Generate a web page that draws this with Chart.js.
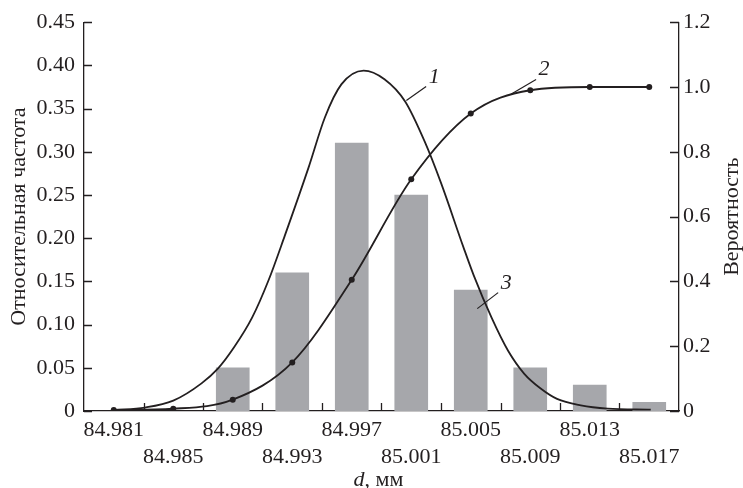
<!DOCTYPE html>
<html>
<head>
<meta charset="utf-8">
<script src="https://cdn.jsdelivr.net/npm/chart.js@4.4.1/dist/chart.umd.min.js"></script>
<style>
  body { margin: 0; background: #fff; }
</style>
</head>
<body>
<canvas id="chart" width="743" height="488"></canvas>
<script>
// histogram (relative frequency, left axis)
const binCenters = [84.989, 84.993, 84.997, 85.001, 85.005, 85.009, 85.013, 85.017];
const relFrequency = [0.05, 0.16, 0.31, 0.25, 0.14, 0.05, 0.03, 0.01];

// curve 1 - density (left axis)
const densityX = [84.981, 84.9831, 84.985, 84.9869, 84.988, 84.9891, 84.9903, 84.9914, 84.9925, 84.9941,
  84.9952, 84.9963, 84.9978, 84.9992, 85.0006, 85.0019, 85.003, 85.0045, 85.0052, 85.0064,
  85.0075, 85.0086, 85.0097, 85.0108, 85.0124, 85.0142, 85.0171];
const densityY = [0.001, 0.004, 0.012, 0.032, 0.049, 0.074, 0.108, 0.151, 0.203, 0.282,
  0.340, 0.378, 0.394, 0.384, 0.358, 0.312, 0.264, 0.190, 0.157, 0.108,
  0.070, 0.043, 0.026, 0.014, 0.0066, 0.0028, 0.0015];

// curve 2 - cumulative probability (right axis)
const cdfX = [84.981, 84.985, 84.989, 84.993, 84.997, 85.001, 85.005, 85.009, 85.013, 85.017];
const cdfY = [0.003, 0.007, 0.035, 0.15, 0.405, 0.715, 0.918, 0.99, 1.0, 1.0];

const xTickLabels = [84.981, 84.985, 84.989, 84.993, 84.997, 85.001, 85.005, 85.009, 85.013, 85.017];
const xTickMarks = [84.983, 84.987, 84.991, 84.995, 84.999, 85.003, 85.007, 85.011, 85.015];
const yLeftTicks = [0, 0.05, 0.10, 0.15, 0.20, 0.25, 0.30, 0.35, 0.40, 0.45];
const yRightTicks = [0, 0.2, 0.4, 0.6, 0.8, 1.0, 1.2];

const INK = '#231f20';
const FONT = 'Liberation Serif';

// curve numbers with leader lines (x value, left-axis value)
const curveNotes = [
  { text: '1', at: [85.00254, 0.386], from: [85.00067, 0.3595], to: [85.0020, 0.3757] },
  { text: '2', at: [85.00993, 0.3954], from: [85.0077, 0.3665], to: [85.00939, 0.3838] },
  { text: '3', at: [85.00738, 0.1474], from: [85.00544, 0.1185], to: [85.00684, 0.137] }
];

const decorations = {
  id: 'decorations',
  afterDraw(chart) {
    const { ctx, chartArea } = chart;
    const x = chart.scales.x, yl = chart.scales.yLeft, yr = chart.scales.yRight;
    ctx.save();
    ctx.strokeStyle = INK;
    ctx.lineWidth = 1.3;
    ctx.beginPath();
    xTickMarks.forEach(v => {
      const px = Math.round(x.getPixelForValue(v)) + 0.5;
      ctx.moveTo(px, chartArea.bottom);
      ctx.lineTo(px, chartArea.bottom - 8);
    });
    yLeftTicks.forEach(v => {
      const py = Math.round(yl.getPixelForValue(v)) + 0.5;
      ctx.moveTo(chartArea.left, py);
      ctx.lineTo(chartArea.left + 8, py);
    });
    yRightTicks.forEach(v => {
      const py = Math.round(yr.getPixelForValue(v)) + 0.5;
      ctx.moveTo(chartArea.right, py);
      ctx.lineTo(chartArea.right - 9, py);
    });
    ctx.stroke();

    // curve numbers
    ctx.lineWidth = 1.2;
    ctx.fillStyle = INK;
    ctx.font = 'italic 22px "' + FONT + '"';
    ctx.textAlign = 'center';
    ctx.textBaseline = 'middle';
    curveNotes.forEach(n => {
      ctx.beginPath();
      ctx.moveTo(x.getPixelForValue(n.from[0]), yl.getPixelForValue(n.from[1]));
      ctx.lineTo(x.getPixelForValue(n.to[0]), yl.getPixelForValue(n.to[1]));
      ctx.stroke();
      ctx.fillText(n.text, x.getPixelForValue(n.at[0]), yl.getPixelForValue(n.at[1]));
    });

    // axis titles
    const midY = (chartArea.top + chartArea.bottom) / 2;
    ctx.font = '22px "' + FONT + '"';
    ctx.save();
    ctx.translate(19, midY);
    ctx.rotate(-Math.PI / 2);
    ctx.fillText('Относительная частота', 0, 0);
    ctx.restore();
    ctx.save();
    ctx.translate(732, midY);
    ctx.rotate(-Math.PI / 2);
    ctx.fillText('Вероятность', 0, 0);
    ctx.restore();

    ctx.textAlign = 'left';
    ctx.textBaseline = 'alphabetic';
    const rest = ', мм';
    ctx.font = 'italic 22px "' + FONT + '"';
    const wd = ctx.measureText('d').width;
    ctx.font = '22px "' + FONT + '"';
    const wr = ctx.measureText(rest).width;
    const cx = (chartArea.left + chartArea.right) / 2 - 3;
    const x0 = cx - (wd + wr) / 2;
    ctx.font = 'italic 22px "' + FONT + '"';
    ctx.fillText('d', x0, 486);
    ctx.font = '22px "' + FONT + '"';
    ctx.fillText(rest, x0 + wd, 486);
    ctx.restore();
  }
};

Chart.defaults.font.family = FONT;
Chart.defaults.color = INK;

new Chart(document.getElementById('chart'), {
  type: 'bar',
  data: {
    datasets: [
      {
        type: 'line',
        label: '1',
        data: densityX.map((v, i) => ({ x: v, y: densityY[i] })),
        yAxisID: 'yLeft',
        borderColor: INK,
        borderWidth: 1.8,
        pointRadius: 0,
        cubicInterpolationMode: 'monotone',
        order: 1
      },
      {
        type: 'line',
        label: '2',
        data: cdfX.map((v, i) => ({ x: v, y: cdfY[i] })),
        yAxisID: 'yRight',
        borderColor: INK,
        borderWidth: 1.8,
        pointRadius: 3,
        pointBackgroundColor: INK,
        pointBorderWidth: 0,
        cubicInterpolationMode: 'monotone',
        order: 2
      },
      {
        label: '3',
        data: binCenters.map((v, i) => ({ x: v, y: relFrequency[i] })),
        yAxisID: 'yLeft',
        backgroundColor: '#a6a7ab',
        barThickness: 33,
        order: 3
      }
    ]
  },
  options: {
    responsive: false,
    animation: false,
    layout: { padding: { top: 21, left: 0, right: 0, bottom: 0 } },
    plugins: {
      legend: { display: false },
      tooltip: { enabled: false }
    },
    scales: {
      x: {
        type: 'linear',
        offset: false,
        min: 84.979,
        max: 85.019,
        afterBuildTicks: (s) => { s.ticks = xTickLabels.map(v => ({ value: v })); },
        afterFit: (s) => { s.height = 77; },
        grid: { display: false, drawTicks: false, offset: false },
        border: { display: true, color: INK, width: 1.3 },
        ticks: {
          autoSkip: false,
          maxRotation: 0,
          minRotation: 0,
          padding: 6,
          font: { size: 22, lineHeight: 1.227 },
          callback: (v, i) => {
            const t = v.toFixed(3);
            return i % 2 === 0 ? [t] : ['', t];
          }
        }
      },
      yLeft: {
        position: 'left',
        min: 0,
        max: 0.45,
        afterBuildTicks: (s) => { s.ticks = yLeftTicks.map(v => ({ value: v })); },
        afterFit: (s) => { s.width = 84; },
        grid: { display: false, drawTicks: false },
        border: { display: true, color: INK, width: 1.3 },
        ticks: {
          padding: 9,
          font: { size: 22 },
          callback: (v) => v === 0 ? '0' : v.toFixed(2)
        }
      },
      yRight: {
        position: 'right',
        min: 0,
        max: 1.2,
        afterBuildTicks: (s) => { s.ticks = yRightTicks.map(v => ({ value: v })); },
        afterFit: (s) => { s.width = 64; },
        grid: { display: false, drawTicks: false },
        border: { display: true, color: INK, width: 1.3 },
        ticks: {
          padding: 4,
          font: { size: 22 },
          callback: (v) => v === 0 ? '0' : v.toFixed(1)
        }
      }
    }
  },
  plugins: [decorations]
});
</script>
</body>
</html>
